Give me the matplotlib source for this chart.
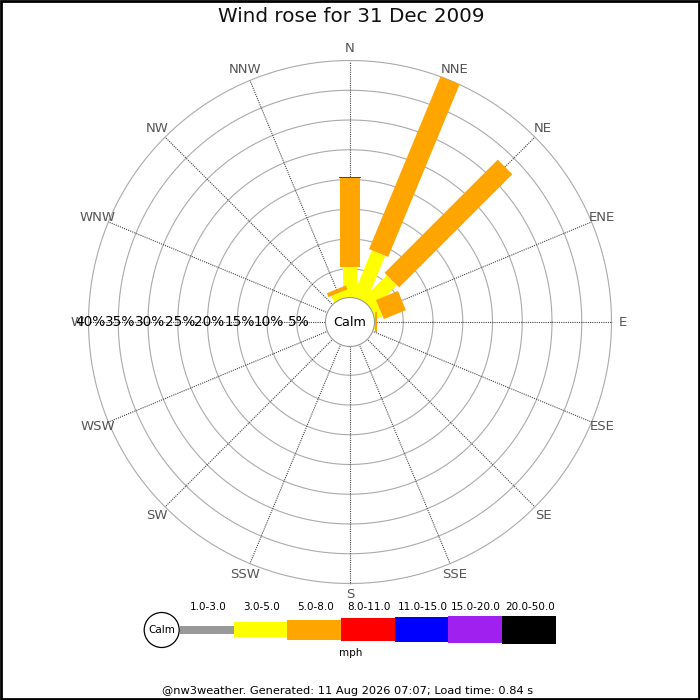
import numpy as np
import matplotlib
matplotlib.use("Agg")
import matplotlib.pyplot as plt
from matplotlib.patches import Polygon, Circle, Rectangle

# ---- data ----
directions = ["N", "NNE", "NE", "ENE", "E", "ESE", "SE", "SSE",
              "S", "SSW", "SW", "WSW", "W", "WNW", "NW", "NNW"]
speed_bins = ["1.0-3.0", "3.0-5.0", "5.0-8.0", "8.0-11.0",
              "11.0-15.0", "15.0-20.0", "20.0-50.0"]
bin_colors = ["#999999", "#ffff00", "#ffa500", "#ff0000",
              "#0000ff", "#a020f0", "#000000"]
# percentage of time per direction for each speed bin
pct_1_3   = [0.0, 0.0, 0.0, 0.0, 0.0, 0, 0, 0, 0, 0, 0, 0, 0, 0, 0, 0.0]
pct_3_5   = [5.3, 8.6, 6.0, 1.5, 0.3, 0, 0, 0, 0, 0, 0, 0, 0, 0, 0, 1.3]
pct_5_8   = [14.9, 31.4, 26.9, 4.0, 0.3, 0, 0, 0, 0, 0, 0, 0, 0, 0, 0, 0.7]
pct_8_11  = [0.3, 0.0, 0.0, 0.0, 0.0, 0, 0, 0, 0, 0, 0, 0, 0, 0, 0, 0.0]
pct_11_15 = [0.0] * 16
pct_15_20 = [0.0] * 16
pct_20_50 = [0.0] * 16
ring_pcts = [5, 10, 15, 20, 25, 30, 35, 40]
title = "Wind rose for 31 Dec 2009"
footer = "@nw3weather. Generated: 11 Aug 2026 07:07; Load time: 0.84 s"

series = [pct_1_3, pct_3_5, pct_5_8, pct_8_11, pct_11_15, pct_15_20, pct_20_50]

# ---- layout (pixel-like units, origin at rose centre) ----
R0 = 23.5      # calm circle radius
S = 5.95       # px per percent
LAB_R = 273
bin_widths = [8, 14.5, 20.7, 22.5, 25, 27, 28]   # bar / legend thickness per bin

def rad(p):
    return R0 + S * p

fig = plt.figure(figsize=(7, 7), dpi=100)
ax = fig.add_axes([0, 0, 1, 1])
ax.set_xlim(-350, 350)
ax.set_ylim(-378, 322)
ax.set_aspect("equal")
ax.axis("off")

# rings
t = np.linspace(0, 2 * np.pi, 400)
for p in ring_pcts:
    r = rad(p)
    ax.plot(r * np.cos(t), r * np.sin(t), color="#aaaaaa", lw=0.8, zorder=1)

# spokes
n = len(directions)
angles = np.deg2rad(np.arange(n) * 360.0 / n)
for a in angles:
    ux, uy = np.sin(a), np.cos(a)
    ax.plot([R0 * ux, rad(ring_pcts[-1]) * ux], [R0 * uy, rad(ring_pcts[-1]) * uy],
            color="#444444", lw=0.8, ls=(0, (1, 1)), zorder=2)

# bars
for i, a in enumerate(angles):
    ux, uy = np.sin(a), np.cos(a)
    vx, vy = np.cos(a), -np.sin(a)
    cum = 0.0
    first = True
    for k, s in enumerate(series):
        v = s[i]
        if v <= 0:
            continue
        hw = bin_widths[k] / 2
        r1 = 0.0 if first else rad(cum)
        cum += v
        r2 = rad(cum)
        first = False
        pts = [(r1 * ux + hw * vx, r1 * uy + hw * vy),
               (r2 * ux + hw * vx, r2 * uy + hw * vy),
               (r2 * ux - hw * vx, r2 * uy - hw * vy),
               (r1 * ux - hw * vx, r1 * uy - hw * vy)]
        ax.add_patch(Polygon(pts, closed=True, facecolor=bin_colors[k],
                             edgecolor="none", zorder=3 + k * 0.01))

# calm circle
ax.add_patch(Circle((0, 0), R0 + 1, facecolor="white", edgecolor="#999999",
                    lw=0.8, zorder=5))
ax.text(0, 0, "Calm", ha="center", va="center", fontsize=9.2, zorder=6)

# direction labels
for d, a in zip(directions, angles):
    ax.text(LAB_R * np.sin(a), LAB_R * np.cos(a), d, ha="center", va="center",
            fontsize=9.5, color="#555555", zorder=6)

# ring labels along W axis
for p in ring_pcts:
    ax.text(-rad(p) + 2, 0, f"{p}%", ha="center", va="center",
            fontsize=9.8, color="black", zorder=7)

# title
ax.text(1, 322 - 17, title, ha="center", va="center", fontsize=14.3, color="#111111")

# legend
lx0, lw_box, ly = 180 - 350, 53.65, 322 - 629.5
heights = [8, 15, 20, 23, 25, 27, 28]
for k, (lab, col) in enumerate(zip(speed_bins, bin_colors)):
    x = lx0 + k * lw_box
    h = heights[k]
    ax.add_patch(Rectangle((x, ly - h / 2), lw_box, h, facecolor=col,
                           edgecolor="none", zorder=5))
    ax.text(x + lw_box / 2 + 1, 322 - 606.5, lab, ha="center", va="center",
            fontsize=7.5, color="black")
ax.add_patch(Circle((161.7 - 350, 322 - 630), 17.5, facecolor="white",
                    edgecolor="black", lw=0.9, zorder=6))
ax.text(161.7 - 350, 322 - 630, "Calm", ha="center", va="center", fontsize=7.5, zorder=7)
ax.text(0.5, 322 - 653.5, "mph", ha="center", va="center", fontsize=7.5)

# footer
ax.text(-2, 322 - 691.5, footer, ha="center", va="center", fontsize=8.2)

# border
ax.add_patch(Rectangle((-349, -377), 698, 698, facecolor="none",
                       edgecolor="black", lw=2, zorder=10))

fig.savefig("out.png", dpi=100)
